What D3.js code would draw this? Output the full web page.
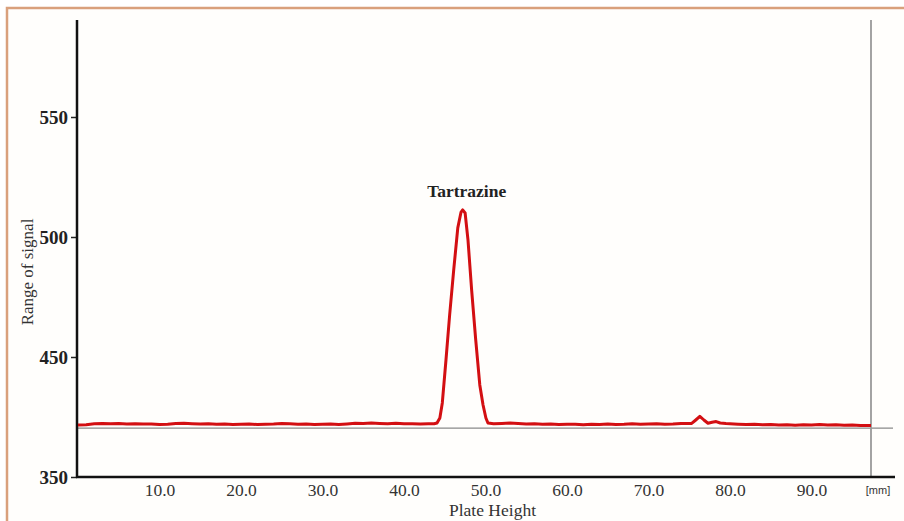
<!DOCTYPE html>
<html>
<head>
<meta charset="utf-8">
<script src="https://cdn.jsdelivr.net/npm/d3@7"></script>
<style>
  body { margin: 0; background: #fff; }
  svg { display: block; }
</style>
</head>
<body>
<div id="chart"></div>
<script>
// plate height (mm) and signal
const plateHeight = [
  0, 1, 2, 3, 4, 5, 6, 7, 8, 9, 10, 11, 12, 13, 14, 15, 16, 17, 18, 19,
  20, 21, 22, 23, 24, 25, 26, 27, 28, 29, 30, 31, 32, 33, 34, 35, 36, 37, 38, 39,
  40, 41, 42, 43, 43.7,
  44.05, 44.4, 44.7, 45.15, 45.6, 46.1, 46.6, 47.0, 47.2, 47.5, 47.85, 48.3, 48.8, 49.3, 49.7, 50.05, 50.3,
  51, 52, 53, 54, 55, 56, 57, 58, 59, 60, 61, 62, 63, 64, 65, 66, 67, 68, 69,
  70, 71, 72, 73, 74, 75.3, 75.8, 76.3, 76.8, 77.3, 77.8, 78.3, 78.8, 79.5,
  80, 81, 82, 83, 84, 85, 86, 87, 88, 89, 90, 91, 92, 93, 94, 95, 96, 97.3
]
const signal = [
  393.3, 393.6, 394.4, 394.6, 394.3, 394.5, 394.2, 394.4, 394.1, 394.2, 393.8, 394.0, 394.6, 394.8, 394.4, 394.1, 394.3, 393.9, 394.2, 393.8,
  393.9, 394.1, 393.7, 394.0, 394.2, 394.6, 394.3, 393.9, 394.2, 393.8, 393.9, 394.1, 393.8, 394.2, 394.7, 394.5, 394.9, 394.6, 394.4, 394.8,
  394.3, 394.4, 394.1, 394.3, 394.4,
  395.0, 399.2, 411.7, 447.5, 467.5, 486.3, 503.8, 510.4, 511.3, 510.0, 498.8, 477.9, 457.1, 426.7, 410.0, 399.2, 395.0,
  394.4, 394.6, 394.9, 394.5, 394.2, 394.4, 394.0, 394.2, 393.7, 393.9, 394.0, 393.6, 393.9, 393.8, 394.1, 393.7, 393.9, 394.3, 393.9,
  394.1, 394.3, 394.0, 394.2, 394.6, 394.6, 397.5, 400.5, 397.5, 394.8, 395.6, 396.2, 395.0, 394.5,
  394.3, 394.0, 393.8, 393.9, 393.5, 393.7, 393.3, 393.5, 393.2, 393.6, 393.4, 393.7, 393.3, 393.5, 393.2, 393.4, 393.0, 392.9
]
const xTicks = [10, 20, 30, 40, 50, 60, 70, 80, 90]
const yTicks = [350, 450, 500, 550]
const peakLabel = 'Tartrazine'
const peakAt = 47.2
const baseLevel = 390.8
const plateEnd = 97.3

const width = 904, height = 521

const svg = d3.select('#chart')
  .append('svg')
  .attr('width', width)
  .attr('height', height)

// frame
svg.append('rect')
  .attr('x', 7).attr('y', 8)
  .attr('width', width + 10).attr('height', height + 10)
  .attr('fill', '#fffefc')
  .attr('stroke', '#d9a07c')
  .attr('stroke-width', 2.5)

const x = d3.scaleLinear().domain([0, 100]).range([78, 893])
// the printed scale is uneven (350 -> 450 spans the same height as 450 -> 500)
const y = d3.scaleLinear().domain([350, 450, 500, 550]).range([477, 357, 237, 117])

const serif = '"Liberation Serif", "DejaVu Serif", serif'

// baseline reference + plate end marker
svg.append('line')
  .attr('x1', 77).attr('x2', x(100))
  .attr('y1', y(baseLevel)).attr('y2', y(baseLevel))
  .attr('stroke', '#8a8a8a').attr('stroke-width', 1.2)

svg.append('line')
  .attr('x1', x(plateEnd)).attr('x2', x(plateEnd))
  .attr('y1', 20).attr('y2', 477)
  .attr('stroke', '#9a9a9a').attr('stroke-width', 1.8)

// y axis
const yAxis = svg.append('g')
  .attr('transform', 'translate(77,0)')
  .call(d3.axisLeft(y).tickValues(yTicks).tickSize(6).tickPadding(3).tickFormat(d3.format('d')))
yAxis.select('.domain').remove()
yAxis.selectAll('line').attr('stroke', '#222').attr('stroke-width', 1.5)
yAxis.selectAll('text')
  .attr('font-family', serif).attr('font-size', 19).attr('font-weight', 'bold').attr('fill', '#222')

svg.append('line')
  .attr('x1', 77).attr('x2', 77).attr('y1', 20).attr('y2', 478)
  .attr('stroke', '#111').attr('stroke-width', 2.5)

// x axis
const xAxis = svg.append('g')
  .attr('transform', 'translate(0,477)')
  .call(d3.axisBottom(x).tickValues(xTicks).tickSize(0).tickPadding(7).tickFormat(d3.format('.1f')))
xAxis.select('.domain').remove()
xAxis.selectAll('text')
  .attr('font-family', serif).attr('font-size', 17.5).attr('fill', '#333')

svg.append('line')
  .attr('x1', 76).attr('x2', 895).attr('y1', 477).attr('y2', 477)
  .attr('stroke', '#111').attr('stroke-width', 2.5)

svg.append('text')
  .attr('x', 878).attr('y', 494)
  .attr('text-anchor', 'middle')
  .attr('font-family', '"Liberation Sans", Arial, sans-serif').attr('font-size', 11)
  .attr('fill', '#333')
  .text('[mm]')

// axis titles
svg.append('text')
  .attr('x', x(50) + 7).attr('y', 516)
  .attr('text-anchor', 'middle')
  .attr('font-family', serif).attr('font-size', 17.5).attr('fill', '#333')
  .text('Plate Height')

svg.append('text')
  .attr('transform', 'translate(33,272) rotate(-90)')
  .attr('text-anchor', 'middle')
  .attr('font-family', serif).attr('font-size', 17).attr('fill', '#333')
  .text('Range of signal')

// trace
const trace = plateHeight.map((h, i) => ({ h: h, v: signal[i] }))
const line = d3.line()
  .x(d => x(d.h))
  .y(d => y(d.v))

svg.append('path')
  .datum(trace)
  .attr('fill', 'none')
  .attr('stroke', '#d30f12')
  .attr('stroke-width', 3)
  .attr('stroke-linejoin', 'round')
  .attr('d', line)

svg.append('text')
  .attr('x', x(peakAt) + 4).attr('y', y(d3.max(signal)) - 13)
  .attr('text-anchor', 'middle')
  .attr('font-family', serif).attr('font-size', 17.5).attr('font-weight', 'bold').attr('fill', '#222')
  .text(peakLabel)
</script>
</body>
</html>
